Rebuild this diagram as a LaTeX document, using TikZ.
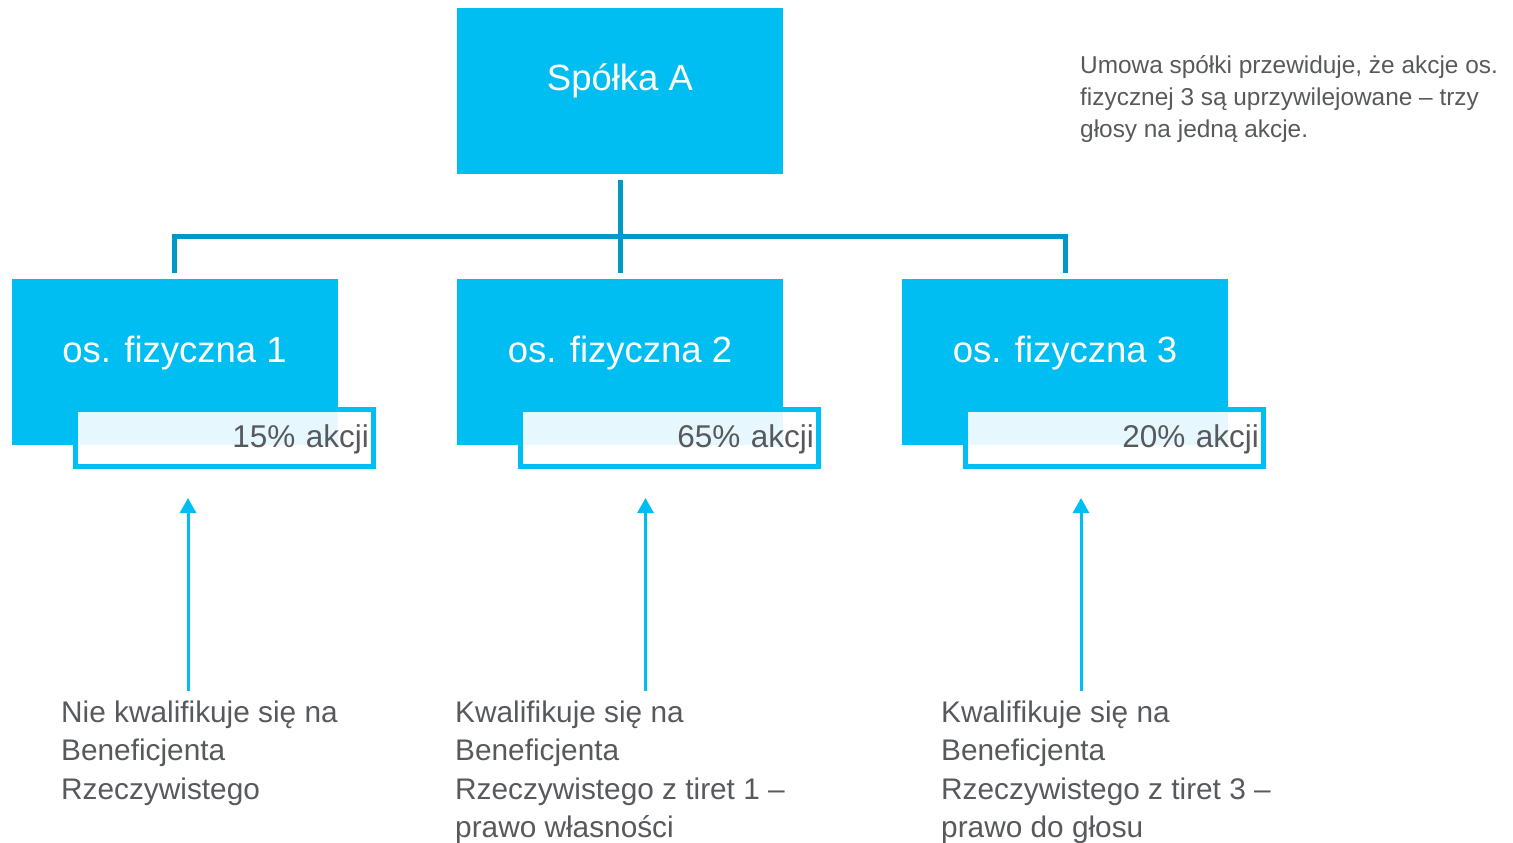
\documentclass[tikz,border=0pt]{standalone}
\usepackage{fontspec}
\setmainfont{Liberation Sans}
\usetikzlibrary{arrows.meta,calc}
\definecolor{cy}{HTML}{00BEF2}
\definecolor{conn}{HTML}{0099C6}
\definecolor{txt}{HTML}{57595D}
\begin{document}
\begin{tikzpicture}[x=1pt,y=-1pt,
  mainbox/.style={fill=cy, draw=none, minimum width=326pt, minimum height=166pt,
    inner sep=0pt, text=white, text height=0pt, text depth=0pt,
    font=\fontsize{36.5}{44}\selectfont},
  sharebox/.style={draw=cy, line width=5pt, fill=white, fill opacity=0.9,
    draw opacity=1, text opacity=1, minimum width=298pt, minimum height=57pt,
    inner xsep=4.5pt, inner ysep=0pt, text width=289pt, align=right,
    text height=18pt, text depth=0pt, text=txt,
    font=\fontsize{31.5}{38}\selectfont},
  conline/.style={draw=conn, line width=5pt, line join=miter},
  uparrow/.style={draw=cy, line width=3pt, -{Triangle[width=16pt,length=15pt]}},
  note/.style={anchor=base west, inner sep=0pt, text=txt, align=left},
  lowtext/.style={note, font=\fontsize{29.8}{38.5}\selectfont},
]
\useasboundingbox (0,0) rectangle (1513,843);

% boxes
\node[mainbox] (A) at (620,91) {Spółka A};
\node[mainbox] (p1) at (174.5,362) {os. fizyczna 1};
\node[mainbox] (p2) at (620,362) {os. fizyczna 2};
\node[mainbox] (p3) at (1065,362) {os. fizyczna 3};

\node[sharebox] (s1) at (224.5,438) {15\% akcji};
\node[sharebox] (s2) at (669.5,438) {65\% akcji};
\node[sharebox] (s3) at (1114.5,438) {20\% akcji};

% connectors
\coordinate (Abot) at ($(A.south)+(0,6)$);
\coordinate (t1) at ($(p1.north)+(0,-6)$);
\coordinate (t2) at ($(p2.north)+(0,-6)$);
\coordinate (t3) at ($(p3.north)+(0,-6)$);
\draw[conline] (t1) -- (t1 |- 0,236) -- (t3 |- 0,236) -- (t3);
\draw[conline] (Abot) -- (t2);

% note (anchored at the baseline of its last line)
\node[note, font=\fontsize{24.4}{32}\selectfont] (n0) at (1080,137)
  {Umowa spółki przewiduje, że akcje os.\\fizycznej 3 są uprzywilejowane – trzy\\głosy na jedną akcje.};

% bottom texts (anchored at the baseline of their last line)
\node[lowtext] (b1) at (61,799) {Nie kwalifikuje się na\\Beneficjenta\\Rzeczywistego};
\node[lowtext] (b2) at (455,837.5) {Kwalifikuje się na\\Beneficjenta\\Rzeczywistego z tiret 1 –\\prawo własności};
\node[lowtext] (b3) at (941,837.5) {Kwalifikuje się na\\Beneficjenta\\Rzeczywistego z tiret 3 –\\prawo do głosu};

% arrows
\coordinate (a1s) at (188,691);
\coordinate (a1e) at (188,498);
\coordinate (a2s) at (645.5,691);
\coordinate (a2e) at (645.5,498);
\coordinate (a3s) at (1081,691);
\coordinate (a3e) at (1081,498);
\draw[uparrow] (a1s) -- (a1e);
\draw[uparrow] (a2s) -- (a2e);
\draw[uparrow] (a3s) -- (a3e);
\end{tikzpicture}
\end{document}
